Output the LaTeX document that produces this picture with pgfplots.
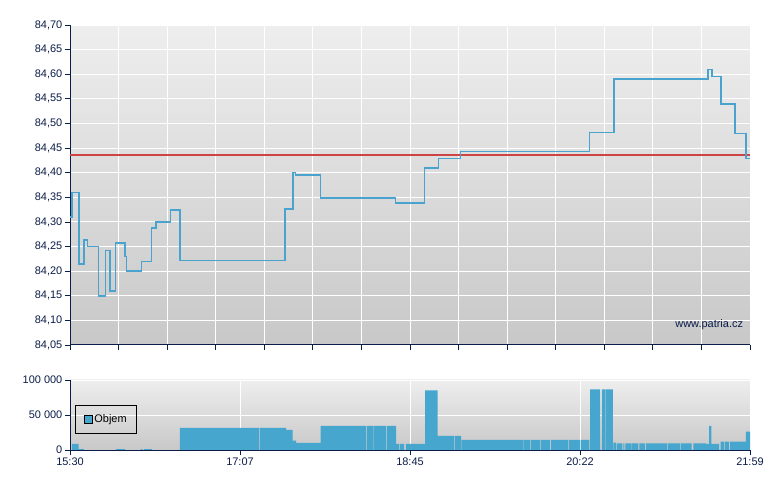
\documentclass[border=0pt]{standalone}
\usepackage{fontspec}
\setmainfont{Liberation Sans}
\usepackage{pgfplots}
\pgfplotsset{compat=1.18}
\definecolor{navy}{HTML}{0B1C48}
\definecolor{pricecol}{HTML}{4AA3CE}
\definecolor{barcol}{HTML}{46A6CE}
\definecolor{refred}{HTML}{CC4444}
\definecolor{bgtop}{HTML}{EEEEEE}
\definecolor{bgbot}{HTML}{C8C8C8}

% x = minutes since 15:30
\pgfplotsset{
  patria/.style={
    scale only axis, width=680bp,
    xmin=0, xmax=389,
    axis lines*=left,
    axis line style={navy, line width=1pt},
    tick style={navy, line width=0.8pt},
    major tick length=5bp,
    tick align=outside,
    grid=major,
    major grid style={white, line width=1pt},
    axis background/.style={top color=bgtop, bottom color=bgbot},
    tick label style={font=\fontsize{11}{13}\selectfont, text=navy, inner sep=2.5bp},
    /pgf/number format/assume math mode=true,
  }
}

\begin{document}
\begin{tikzpicture}
\useasboundingbox (0,0) rectangle (780bp,490bp);

% price
\begin{axis}[patria,
  at={(70bp,145bp)}, anchor=south west, height=320bp,
  ymin=84.05, ymax=84.70,
  ytick={84.05,84.10,84.15,84.20,84.25,84.30,84.35,84.40,84.45,84.50,84.55,84.60,84.65,84.70},
  yticklabel style={/pgf/number format/.cd, fixed, fixed zerofill, precision=2, use comma},
  xtick={0,27.786,55.571,83.357,111.143,138.929,166.714,194.5,222.286,250.071,277.857,305.643,333.429,361.214,389},
  xticklabels={},
]
\addplot[refred, line width=1.1pt] coordinates {(0,84.436) (389,84.436)};
\addplot[const plot, pricecol, line width=1.6pt] coordinates {
  (0,84.31) (1.1,84.36) (5.0,84.215) (8.0,84.263) (9.9,84.25) (16.2,84.15)
  (20.2,84.242) (22.9,84.16) (26.1,84.257) (31.5,84.23) (32.4,84.20)
  (41.0,84.22) (46.7,84.288) (49.2,84.30) (57.6,84.324) (62.9,84.222)
  (123.0,84.326) (127.7,84.40) (129.1,84.395) (143.4,84.349) (186.1,84.338)
  (202.9,84.409) (210.7,84.429) (223.5,84.443) (297.1,84.482) (311.2,84.59)
  (365.1,84.61) (367.1,84.595) (372.4,84.539) (380.4,84.48) (386.7,84.429)
  (389,84.429)
};
\node[anchor=base east, inner sep=0pt, text=navy, font=\fontsize{11}{13}\selectfont]
  at (rel axis cs:0.99,0.055) {www.patria.cz};
\end{axis}

% volume
\begin{axis}[patria,
  at={(70bp,40bp)}, anchor=south west, height=70bp,
  ymin=0, ymax=100000, scaled y ticks=false,
  ytick={0,50000,100000}, yticklabels={0,50 000,100 000},
  xtick={0,97.25,194.5,291.75,389},
  xticklabels={15:30,17:07,18:45,20:22,21:59},
  legend style={at={(rel axis cs:0.008,0.64)}, anchor=north west,
    draw=black, line width=0.8pt, fill=none, font=\fontsize{11}{13}\selectfont,
    inner xsep=8bp, inner ysep=7bp},
]
\addplot[const plot, fill=barcol, draw=none,
  legend image code/.code={\draw[fill=barcol, draw=black, line width=0.6pt] (0bp,-4bp) rectangle (8bp,4bp);}]
  coordinates {
  (1.1,8700) (5.0,1400) (8.0,0) (26.3,1400) (31.5,0) (40.6,1400) (41.4,0)
  (42.3,1400) (46.9,0) (62.9,31700) (108.3,0) (108.7,31700) (123.6,28800)
  (127.4,13500) (129.3,10100) (143.4,34600) (169.3,0) (169.7,34600) (173.3,0)
  (173.5,34600) (180.8,0) (181.2,34600) (186.5,8700) (188.4,0) (188.8,8700)
  (191.1,0) (192.2,8700) (203.1,85100) (210.3,20200) (219.8,0) (220.2,20200)
  (223.7,0) (224.1,14400) (259.0,0) (259.3,14400) (263.1,0) (263.5,14400)
  (268.9,0) (269.3,14400) (274.6,0) (275.2,14400) (285.1,0) (285.5,14400)
  (291.8,0) (292.2,14400) (297.1,0) (297.5,86500) (298.4,0) (298.6,86500)
  (303.2,0) (304.3,86500) (306.2,0) (306.6,86500) (310.5,0) (310.8,10600)
  (312.3,0) (312.7,9600) (316.0,0) (316.5,9600) (317.1,0) (317.7,9600)
  (320.8,0) (321.1,9600) (325.1,0) (325.7,9600) (328.9,0) (329.5,9600)
  (341.4,0) (341.9,9600) (349.0,0) (349.4,9600) (355.6,0) (356.6,9600)
  (363.8,8700) (365.6,34600) (366.9,8700) (371.4,0) (372.2,12000) (374.3,0)
  (374.7,12000) (377.0,0) (377.6,12000) (386.7,26400) (389.0,26400)
} \closedcycle;
\addlegendentry{Objem}
\end{axis}
\end{tikzpicture}
\end{document}
